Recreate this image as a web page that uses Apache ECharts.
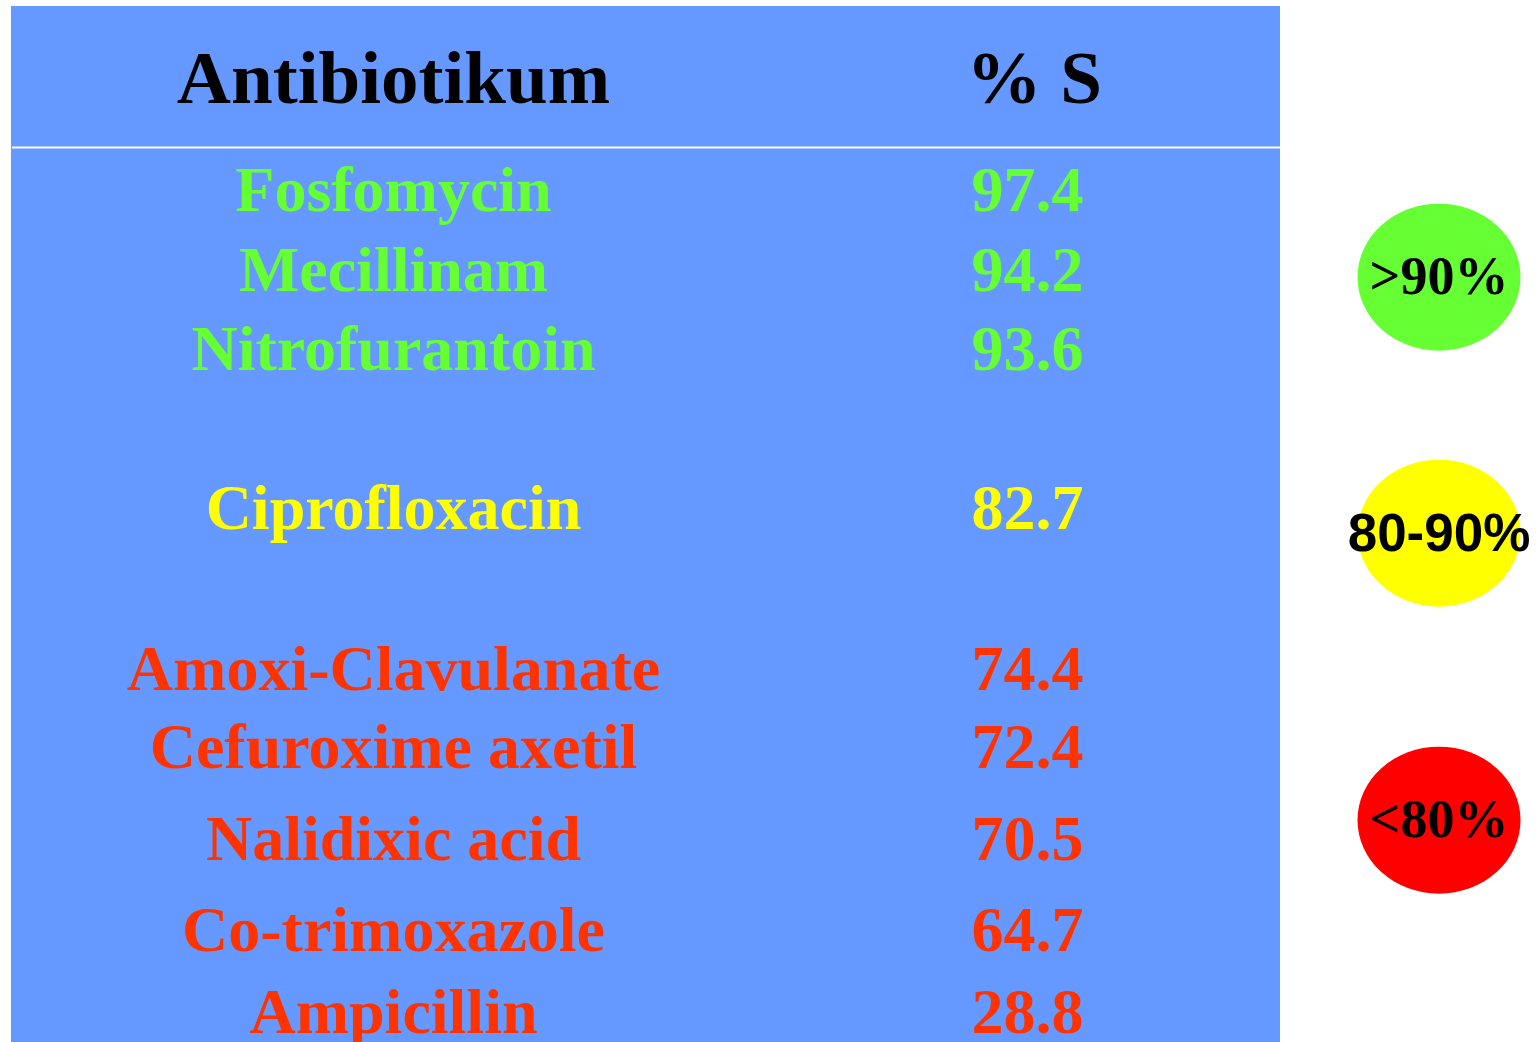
<!DOCTYPE html>
<html>
<head>
<meta charset="utf-8">
<script src="https://cdn.jsdelivr.net/npm/echarts@6/dist/echarts.min.js"></script>
<style>
html, body { margin: 0; padding: 0; background: #fff; }
#chart { width: 1539px; height: 1042px; }
</style>
</head>
<body>
<div id="chart"></div>
<script>
// table content
var headers = ['Antibiotikum', '% S'];
var antibiotics = ['Fosfomycin', 'Mecillinam', 'Nitrofurantoin', 'Ciprofloxacin',
    'Amoxi-Clavulanate', 'Cefuroxime axetil', 'Nalidixic acid', 'Co-trimoxazole', 'Ampicillin'];
var percentS = [97.4, 94.2, 93.6, 82.7, 74.4, 72.4, 70.5, 64.7, 28.8];
var bands = ['>90%', '80-90%', '<80%'];

// layout: line slot of each row (1 slot = one text line)
var headerSlot = -1.4;
var rowSlots = [0, 1, 2, 4, 6.02, 7.01, 8.16, 9.31, 10.34];
var bandSlots = [1.09, 4.31, 7.92];

var textColors = ['#66FF33', '#FFFF00', '#FF3300'];
var bandFills = ['#66FF33', '#FFFF00', '#FF0000'];
var serif = "'Liberation Serif', 'Times New Roman', serif";

function bandIndex(v) {
    if (v > 90) return 0;
    if (v >= 80) return 1;
    return 2;
}

var myChart = echarts.init(document.getElementById('chart'));

var yAxisCfg = { type: 'value', inverse: true, min: -2, max: 10.5, show: false };
var hiddenDot = { color: 'rgba(0,0,0,0)', opacity: 1 };

var option = {
    animation: false,
    backgroundColor: '#fff',
    graphic: [
        { type: 'rect', z: -10, shape: { x: 11, y: 6, width: 1269, height: 1040 }, style: { fill: '#6699FF' } },
        { type: 'line', z: -9, shape: { x1: 12, y1: 147.5, x2: 1280, y2: 147.5 }, style: { stroke: '#fff', lineWidth: 2 } }
    ],
    grid: [
        { left: 105, width: 1156, top: 36, bottom: 12.25 },
        { left: 1359, width: 160, top: 31.5, bottom: 16.75 }
    ],
    xAxis: [
        { type: 'category', gridIndex: 0, data: headers, boundaryGap: true, show: false },
        { type: 'category', gridIndex: 1, data: ['band'], boundaryGap: true, show: false }
    ],
    yAxis: [
        Object.assign({ gridIndex: 0 }, yAxisCfg),
        Object.assign({ gridIndex: 1 }, yAxisCfg)
    ],
    series: [
        {
            // header row
            type: 'scatter',
            xAxisIndex: 0, yAxisIndex: 0,
            symbolSize: 1,
            itemStyle: hiddenDot,
            label: {
                show: true, position: [0, 0], verticalAlign: 'middle',
                formatter: '{b}', color: '#000',
                fontFamily: serif, fontWeight: 'bold', fontSize: 75
            },
            data: headers.map(function (h, i) {
                return {
                    name: h, value: [i, headerSlot],
                    label: i === 0 ? { align: 'center' } : { align: 'left', offset: [-5, 0] }
                };
            })
        },
        {
            // antibiotic names
            type: 'scatter',
            xAxisIndex: 0, yAxisIndex: 0,
            symbolSize: 1,
            itemStyle: hiddenDot,
            label: {
                show: true, position: [0, 0], align: 'center', verticalAlign: 'middle',
                formatter: '{b}', fontFamily: serif, fontWeight: 'bold', fontSize: 64
            },
            data: antibiotics.map(function (n, i) {
                return { name: n, value: [0, rowSlots[i]], label: { color: textColors[bandIndex(percentS[i])] } };
            })
        },
        {
            // % S values
            type: 'scatter',
            xAxisIndex: 0, yAxisIndex: 0,
            symbolSize: 1,
            itemStyle: hiddenDot,
            label: {
                show: true, position: [0, 0], align: 'left', verticalAlign: 'middle',
                formatter: function (p) { return p.value[2].toFixed(1); },
                fontFamily: serif, fontWeight: 'bold', fontSize: 64
            },
            data: percentS.map(function (v, i) {
                return { value: [1, rowSlots[i], v], label: { color: textColors[bandIndex(v)] } };
            })
        },
        {
            // colour key
            type: 'scatter',
            xAxisIndex: 1, yAxisIndex: 1,
            symbol: 'circle',
            symbolSize: [163, 147],
            itemStyle: { opacity: 1 },
            label: {
                show: true, position: 'inside', formatter: '{b}', color: '#000',
                offset: [0, 3],
                fontFamily: serif, fontWeight: 'bold', fontSize: 54
            },
            data: bands.map(function (b, i) {
                var item = { name: b, value: [0, bandSlots[i]], itemStyle: { color: bandFills[i], opacity: 1 } };
                if (i === 1) item.label = { fontFamily: "'Liberation Sans', Arial, sans-serif", fontSize: 53 };
                return item;
            })
        }
    ]
};

myChart.setOption(option);
window.addEventListener('resize', function () {
    myChart.resize();
});
</script>
</body>
</html>
